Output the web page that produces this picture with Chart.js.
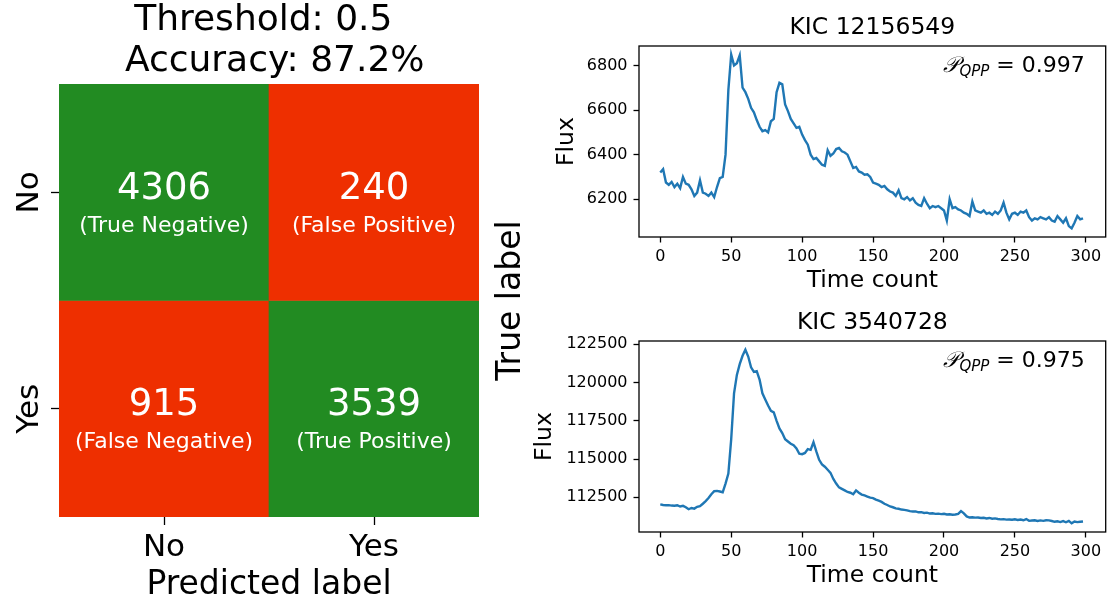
<!DOCTYPE html>
<html>
<head>
<meta charset="utf-8">
<script src="https://cdn.jsdelivr.net/npm/chart.js@4.4.1/dist/chart.umd.min.js"></script>
<style>
    html, body { margin: 0; padding: 0; background: #ffffff; }
    #page { position: relative; width: 1107px; height: 605px; overflow: hidden; }
    canvas { position: absolute; }
</style>
</head>
<body>
<div id="page">
    <canvas id="matrix" width="540" height="605" style="left:0;top:0"></canvas>
    <canvas id="curveTop" width="577" height="300" style="left:530px;top:0"></canvas>
    <canvas id="curveBottom" width="577" height="300" style="left:530px;top:295px"></canvas>
</div>
<script>
// confusion matrix
const trueLabels = ['No', 'Yes'];
const predictedLabels = ['No', 'Yes'];
const cellCounts = [[4306, 240], [915, 3539]];
const cellNames = [['True Negative', 'False Positive'], ['False Negative', 'True Positive']];
const thresholdValue = 0.5;
const accuracyPct = 87.2;

// light curves, one sample every SAMPLE_STEP time counts
const SAMPLE_STEP = 2;
const starNames = ['KIC 12156549', 'KIC 3540728'];
const qppScores = [0.997, 0.975];
const fluxA = [
    6320, 6335, 6275, 6265, 6278, 6255, 6270, 6250, 6300, 6270,
    6265, 6245, 6215, 6230, 6285, 6230, 6225, 6215, 6230, 6210,
    6255, 6295, 6300, 6400, 6690, 6848, 6800, 6810, 6845, 6700,
    6680, 6650, 6610, 6590, 6555, 6525, 6505, 6510, 6500, 6550,
    6560, 6680, 6722, 6715, 6625, 6595, 6560, 6540, 6520, 6525,
    6490, 6465, 6445, 6400, 6380, 6385, 6370, 6355, 6350, 6420,
    6395, 6405, 6425, 6430, 6415, 6410, 6400, 6370, 6340, 6345,
    6325, 6320, 6310, 6312, 6300, 6275, 6270, 6265, 6255, 6260,
    6245, 6235, 6230, 6215, 6240, 6205, 6200, 6210, 6195, 6205,
    6185, 6175, 6170, 6205, 6180, 6160, 6170, 6165, 6170, 6160,
    6150, 6105, 6200, 6160, 6165, 6155, 6150, 6140, 6135, 6125,
    6190, 6150, 6145, 6140, 6150, 6135, 6140, 6130, 6145, 6135,
    6150, 6185, 6140, 6110, 6135, 6140, 6130, 6145, 6140, 6150,
    6120, 6105, 6115, 6110, 6120, 6115, 6110, 6120, 6105, 6100,
    6125, 6110, 6095, 6115, 6080, 6070, 6095, 6125, 6110, 6115
];
const fluxB = [
    112040, 112000, 111980, 111990, 111960, 111950, 111980, 111900, 111940, 111850,
    111720, 111800, 111760, 111880, 111920, 112080, 112250, 112450, 112700, 112900,
    112920, 112880, 112830, 113400, 114050, 116300, 119300, 120500, 121200, 121750,
    122150, 121700, 121000, 120700, 120750, 120200, 119300, 118900, 118500, 118150,
    118050, 117500, 117000, 116700, 116300, 116150, 116000, 115900, 115700, 115350,
    115320, 115400, 115650, 115600, 116100, 115500, 114950, 114650, 114500, 114300,
    114100, 113700, 113400, 113150, 113050, 112950, 112850, 112800, 112700, 112950,
    112800, 112680, 112620, 112550, 112480, 112450, 112350, 112280, 112200, 112080,
    112000, 111900, 111850, 111780, 111750, 111700, 111680, 111650, 111600, 111570,
    111580, 111520, 111530, 111480, 111500, 111440, 111460, 111420, 111430, 111400,
    111420, 111380, 111390, 111360, 111380, 111420, 111600, 111450, 111250, 111180,
    111200, 111170, 111180, 111150, 111160, 111120, 111150, 111100, 111120, 111080,
    111060, 111070, 111040, 111050, 111030, 111060, 111020, 111050, 111000, 111080,
    110960, 110980, 111000, 110950, 110990, 110960, 111000, 110990, 110950, 110900,
    110930, 110880, 110950, 110870, 110960, 110800, 110920, 110880, 110900, 110920
];
const timeTicks = [0, 50, 100, 150, 200, 250, 300];
const fluxTicksA = [6200, 6400, 6600, 6800];
const fluxTicksB = [112500, 115000, 117500, 120000, 122500];
const TIME_LIMITS = [-15, 314];

const CORRECT = 'rgb(34, 139, 34)';
const WRONG = 'rgb(238, 47, 0)';
const LINE_BLUE = '#1f77b4';
const FONT = '"DejaVu Sans", "Liberation Sans", sans-serif';

Chart.defaults.font.family = FONT;
Chart.defaults.color = '#000000';

const cellText = {
    id: 'cellText',
    afterDatasetsDraw(chart) {
        const ctx = chart.ctx;
        ctx.save();
        ctx.fillStyle = '#ffffff';
        ctx.textAlign = 'center';
        ctx.textBaseline = 'middle';
        trueLabels.forEach((row, i) => {
            chart.getDatasetMeta(i).data.forEach((bar, j) => {
                const c = bar.getCenterPoint();
                ctx.font = '37px ' + FONT;
                ctx.fillText(String(cellCounts[i][j]), c.x, c.y - 3);
                ctx.font = '22px ' + FONT;
                ctx.fillText('(' + cellNames[i][j] + ')', c.x, c.y + 33.5);
            });
        });
        // y label sits on the right of the matrix
        const area = chart.chartArea;
        ctx.fillStyle = '#000000';
        ctx.font = '33px ' + FONT;
        ctx.translate(511, (area.top + area.bottom) / 2);
        ctx.rotate(-Math.PI / 2);
        ctx.fillText('True label', 0, 0);
        ctx.restore();
    }
};

const frameBox = {
    id: 'frameBox',
    afterDraw(chart) {
        const {ctx, chartArea} = chart;
        ctx.save();
        ctx.strokeStyle = '#000000';
        ctx.lineWidth = 1.3;
        ctx.strokeRect(chartArea.left, chartArea.top, chartArea.right - chartArea.left, chartArea.bottom - chartArea.top);
        ctx.restore();
    }
};

const qppLabel = {
    id: 'qppLabel',
    afterDraw(chart, args, opts) {
        if (opts.score == null) return;
        const {ctx, chartArea} = chart;
        const baseY = chartArea.top + 26;
        const right = chartArea.right - 21;
        const parts = [
            { text: '\u{1D4AB}', font: 'italic 22px "DejaVu Serif", ' + FONT, dy: 0 },
            { text: 'QPP', font: 'italic 15px ' + FONT, dy: 4 },
            { text: ' = ' + opts.score.toFixed(3), font: '22px ' + FONT, dy: 0 }
        ];
        ctx.save();
        ctx.fillStyle = '#000000';
        ctx.textBaseline = 'alphabetic';
        ctx.textAlign = 'left';
        let total = 0;
        parts.forEach(p => { ctx.font = p.font; p.w = ctx.measureText(p.text).width; total += p.w; });
        let x = right - total;
        parts.forEach(p => {
            ctx.font = p.font;
            ctx.fillText(p.text, x, baseY + p.dy);
            x += p.w;
        });
        ctx.restore();
    }
};

new Chart(document.getElementById('matrix').getContext('2d'), {
    type: 'bar',
    data: {
        labels: predictedLabels,
        datasets: trueLabels.map((row, i) => ({
            label: row,
            data: predictedLabels.map(() => [i, i + 1]),
            backgroundColor: predictedLabels.map((col, j) => i === j ? CORRECT : WRONG),
            grouped: false,
            barPercentage: 1,
            categoryPercentage: 1,
            borderWidth: 0
        }))
    },
    options: {
        responsive: false,
        animation: false,
        devicePixelRatio: 1,
        layout: { padding: { top: 0, bottom: 0, left: 0, right: 61 } },
        scales: {
            x: {
                type: 'category',
                grid: { offset: false, drawOnChartArea: false, tickLength: 8, tickWidth: 1.3, tickColor: '#000' },
                border: { display: false },
                ticks: { font: { size: 31 }, padding: 4, color: '#000' },
                title: { display: true, text: 'Predicted label', font: { size: 33, lineHeight: 1 }, padding: { top: 0, bottom: 3.2 }, color: '#000' },
                afterFit: scale => { scale.height = 88; }
            },
            y: {
                type: 'linear',
                reverse: true,
                min: 0,
                max: 2,
                grid: { drawOnChartArea: false, tickLength: 8, tickWidth: 1.3, tickColor: '#000' },
                border: { display: false },
                ticks: {
                    font: { size: 31 },
                    color: '#000',
                    minRotation: 90,
                    maxRotation: 90,
                    crossAlign: 'center',
                    padding: -4,
                    callback: value => trueLabels[Math.floor(value)]
                },
                afterBuildTicks: scale => { scale.ticks = trueLabels.map((_, i) => ({ value: i + 0.5 })); },
                afterFit: scale => { scale.width = 59; }
            }
        },
        plugins: {
            legend: { display: false },
            tooltip: { enabled: false },
            title: {
                display: true,
                fullSize: false,
                text: ['Threshold: ' + thresholdValue + ' ', ' Accuracy: ' + accuracyPct + '%'],
                font: { size: 36, weight: 'normal', lineHeight: 1.14 },
                color: '#000',
                padding: { top: 0, bottom: 2 }
            }
        }
    },
    plugins: [cellText]
});

function createCurveChart(canvasId, title, flux, fluxTicks, score, fluxTitlePad) {
    const lo = Math.min(...flux);
    const hi = Math.max(...flux);
    const margin = (hi - lo) * 0.05;
    const tickStyle = { drawOnChartArea: false, tickLength: 5.5, tickWidth: 1.3, tickColor: '#000' };

    return new Chart(document.getElementById(canvasId).getContext('2d'), {
        type: 'line',
        data: {
            datasets: [{
                data: flux.map((v, i) => ({ x: i * SAMPLE_STEP, y: v })),
                borderColor: LINE_BLUE,
                borderWidth: 2.4,
                pointRadius: 0,
                tension: 0,
                fill: false
            }]
        },
        options: {
            responsive: false,
            animation: false,
            devicePixelRatio: 1,
            layout: { padding: { top: 0, bottom: 0, left: 0, right: 1.3 } },
            scales: {
                x: {
                    type: 'linear',
                    min: TIME_LIMITS[0],
                    max: TIME_LIMITS[1],
                    grid: tickStyle,
                    border: { display: false },
                    ticks: { font: { size: 16 }, padding: 4.6, color: '#000', callback: v => String(v) },
                    afterBuildTicks: scale => { scale.ticks = timeTicks.map(v => ({ value: v })); },
                    title: { display: true, text: 'Time count', font: { size: 23.5 }, padding: { top: 0, bottom: 5.5 }, color: '#000' },
                    afterFit: scale => { scale.height = 63; }
                },
                y: {
                    type: 'linear',
                    min: lo - margin,
                    max: hi + margin,
                    grid: tickStyle,
                    border: { display: false },
                    ticks: { font: { size: 16 }, padding: 6, color: '#000', callback: v => String(v) },
                    afterBuildTicks: scale => { scale.ticks = fluxTicks.map(v => ({ value: v })); },
                    title: { display: true, text: 'Flux', font: { size: 23.5 }, padding: { top: fluxTitlePad, bottom: 0 }, color: '#000' },
                    afterFit: scale => { scale.width = 109; }
                }
            },
            plugins: {
                legend: { display: false },
                tooltip: { enabled: false },
                title: {
                    display: true,
                    fullSize: false,
                    text: title,
                    font: { size: 23.5, weight: 'normal' },
                    color: '#000',
                    padding: { top: 14.2, bottom: 3.6 }
                },
                qppLabel: { score: score }
            }
        },
        plugins: [frameBox, qppLabel]
    });
}

createCurveChart('curveTop', starNames[0], fluxA, fluxTicksA, qppScores[0], 22.8);
createCurveChart('curveBottom', starNames[1], fluxB, fluxTicksB, qppScores[1], 0.8);
</script>
</body>
</html>
